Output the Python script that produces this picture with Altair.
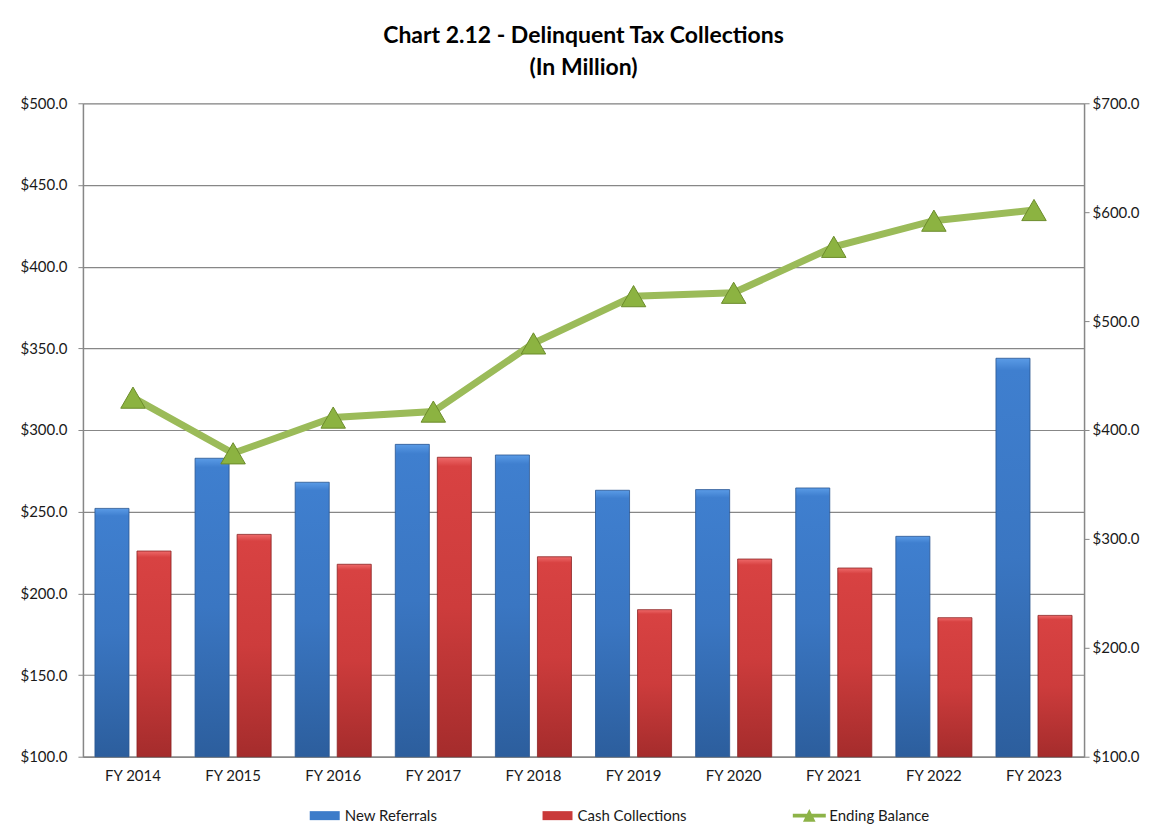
import altair as alt
import pandas as pd

years = ["FY 2014", "FY 2015", "FY 2016", "FY 2017", "FY 2018",
         "FY 2019", "FY 2020", "FY 2021", "FY 2022", "FY 2023"]
new_referrals = [252.0, 282.7, 268.0, 291.2, 284.7, 263.1, 263.5, 264.5, 234.9, 343.9]
cash_collections = [225.9, 236.1, 217.8, 283.3, 222.4, 190.0, 221.0, 215.5, 185.1, 186.5]
ending_balance = [429.7, 378.6, 411.4, 416.9, 479.5, 522.9, 526.0, 568.2, 592.2, 602.0]
series_names = ["New Referrals", "Cash Collections", "Ending Balance"]
left_ticks = [100, 150, 200, 250, 300, 350, 400, 450, 500]
right_ticks = [100, 200, 300, 400, 500, 600, 700]

FONT = "Lato"
TXT = "#1a1a1a"
GRID = "#878787"
BLUE = "#3d7cc9"
RED = "#c93a3a"
GREEN = "#9bbb59"

bars_df = pd.DataFrame(
    [{"year": y, "series": series_names[0], "value": v} for y, v in zip(years, new_referrals)]
    + [{"year": y, "series": series_names[1], "value": v} for y, v in zip(years, cash_collections)]
)
line_df = pd.DataFrame({"year": years, "value": ending_balance})

x_enc = alt.X(
    "year:N", sort=years,
    scale=alt.Scale(paddingInner=0.24, paddingOuter=0.12),
    axis=alt.Axis(title=None, labelAngle=0, ticks=False, labelPadding=12,
                  labelFont=FONT, labelFontSize=15, labelColor=TXT,
                  domainColor=GRID, domainWidth=1.5),
)
xoff = alt.XOffset("series:N", scale=alt.Scale(domain=series_names[:2], paddingInner=0.19, paddingOuter=0))

y_left = alt.Y(
    "value:Q",
    scale=alt.Scale(domain=[100, 500], zero=False, nice=False),
    axis=alt.Axis(title=None, values=left_ticks, format="$,.1f", grid=True,
                  gridColor=GRID, gridWidth=1.2, tickColor=GRID, tickSize=5,
                  labelPadding=11, labelFont=FONT, labelFontSize=15, labelColor=TXT,
                  domainColor=GRID, domainWidth=1.5),
)
y_right = alt.Y(
    "value:Q",
    scale=alt.Scale(domain=[100, 700], zero=False, nice=False),
    axis=alt.Axis(title=None, orient="right", values=right_ticks, format="$,.1f", grid=False,
                  tickColor=GRID, tickSize=5, labelPadding=3, labelFont=FONT, labelFontSize=15,
                  labelColor=TXT, domainColor=GRID, domainWidth=1.5),
)

blue_grad = alt.Gradient(gradient="linear", x1=0, x2=0, y1=0, y2=1,
                         stops=[alt.GradientStop(color="#5a9be6", offset=0),
                                alt.GradientStop(color="#3f7fcf", offset=0.03),
                                alt.GradientStop(color="#3a76c2", offset=0.5),
                                alt.GradientStop(color="#2c5e9d", offset=1)])
red_grad = alt.Gradient(gradient="linear", x1=0, x2=0, y1=0, y2=1,
                        stops=[alt.GradientStop(color="#ee6a6a", offset=0),
                               alt.GradientStop(color="#d84242", offset=0.03),
                               alt.GradientStop(color="#cd3c3c", offset=0.5),
                               alt.GradientStop(color="#a52c2c", offset=1)])

blue_bars = alt.Chart(bars_df).transform_filter(
    alt.datum.series == series_names[0]
).mark_bar(fill=blue_grad, stroke="#2a5690", strokeWidth=0.8).encode(
    x=x_enc, xOffset=xoff, y=y_left, y2=alt.datum(100)
)
red_bars = alt.Chart(bars_df).transform_filter(
    alt.datum.series == series_names[1]
).mark_bar(fill=red_grad, stroke="#8a2222", strokeWidth=0.8).encode(
    x=x_enc, xOffset=xoff, y=y_left, y2=alt.datum(100)
)

rect_path = "M-1,-0.3H1V0.3H-1Z"
line_tri_path = "M-1.1,-0.13H1.1V0.13H-1.1Z M-0.42,0.4L0,-0.45L0.42,0.4Z"

leg = alt.Legend(title=None, orient="none", legendX=227, legendY=698, direction="horizontal",
                 columnPadding=105, symbolSize=900, symbolStrokeWidth=0, symbolOpacity=1,
                 labelFont=FONT, labelFontSize=15, labelColor=TXT, labelOffset=5)

legend_layer = alt.Chart(bars_df).mark_point(filled=True, opacity=0).encode(
    x=x_enc, xOffset=xoff, y=y_left,
    color=alt.Color("series:N", scale=alt.Scale(domain=series_names, range=[BLUE, RED, "#8db348"]),
                    legend=leg),
    shape=alt.Shape("series:N", scale=alt.Scale(domain=series_names, range=[rect_path, rect_path, line_tri_path]),
                    legend=leg),
)

bars = alt.layer(blue_bars, red_bars, legend_layer)

line = alt.Chart(line_df).mark_line(color=GREEN, strokeWidth=7).encode(x=x_enc, y=y_right)
tris = alt.Chart(line_df).mark_point(
    shape="triangle-up", filled=True, size=600, fill="#8cb341", stroke="#6b8c2b",
    strokeWidth=1, opacity=1
).encode(x=x_enc, y=y_right)
lines = alt.layer(line, tris)

chart = alt.layer(bars, lines).resolve_scale(y="independent").properties(
    width=1002, height=654,
    autosize=alt.AutoSizeParams(type="none"),
    padding={"left": 75, "top": 95, "right": 60, "bottom": 75},
    title=alt.TitleParams(
        ["Chart 2.12 - Delinquent Tax Collections", "(In Million)"],
        font=FONT, fontSize=23, fontWeight="bold", color="#000",
        anchor="middle", offset=16, lineHeight=32,
    ),
).configure_view(stroke=None).configure(background="white")

chart.save("out.html", embed_options={"renderer": "svg", "actions": False})
